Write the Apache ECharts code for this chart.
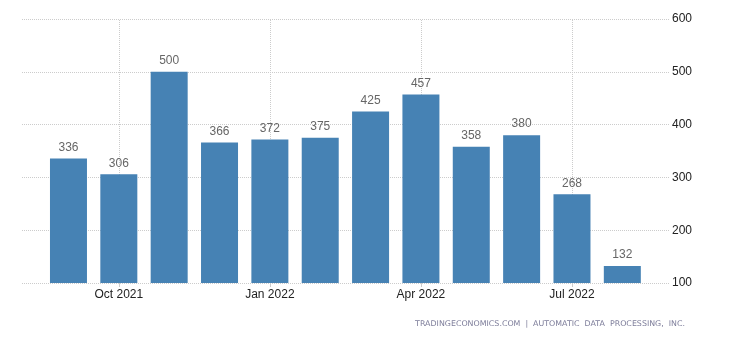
<!DOCTYPE html>
<html>
<head>
<meta charset="utf-8">
<script src="https://cdn.jsdelivr.net/npm/echarts@6/dist/echarts.min.js"></script>
<style>html,body{margin:0;padding:0;background:#fff}#c{width:730px;height:340px}</style>
</head>
<body>
<div id="c"></div>
<script>
var categories = ['Sep 2021','Oct 2021','Nov 2021','Dec 2021','Jan 2022','Feb 2022','Mar 2022','Apr 2022','May 2022','Jun 2022','Jul 2022','Aug 2022'];
var values = [336, 306, 500, 366, 372, 375, 425, 457, 358, 380, 268, 132];
var yTicks = [100, 200, 300, 400, 500, 600];
var shownLabels = ['Oct 2021','Jan 2022','Apr 2022','Jul 2022'];
var footer = 'TRADINGECONOMICS.COM  |  AUTOMATIC  DATA  PROCESSING,  INC.';

var chart = echarts.init(document.getElementById('c'), null, {renderer:'canvas'});
var FONT = 'Liberation Sans, Arial, sans-serif';
function showIdx(i){ return shownLabels.indexOf(categories[i]) >= 0; }
chart.setOption({
  animation: false,
  grid: [
    {left: 43.3, right: 82.5, top: 19, bottom: 57, containLabel: false},
    {left: 22, right: 60, top: 19, bottom: 57, containLabel: false}
  ],
  xAxis: [
    {type: 'category', gridIndex: 0, data: categories, boundaryGap: true,
     axisLine: {show: false},
     axisTick: {show: true, length: 4, alignWithLabel: true, interval: function(i){return showIdx(i);}, lineStyle: {color: '#ccc'}},
     axisLabel: {interval: function(i){return showIdx(i);}, color: '#222', fontSize: 12, fontFamily: FONT, margin: 6},
     splitLine: {show: false}
    },
    {type: 'category', gridIndex: 1, data: categories, show: false}
  ],
  yAxis: [
    {type: 'value', gridIndex: 0, min: 100, max: 600, interval: 100, show: false, splitLine: {show: false}},
    {type: 'value', gridIndex: 1, min: yTicks[0], max: yTicks[yTicks.length-1], interval: 100, position: 'right',
     axisLine: {show: false}, axisTick: {show: false},
     axisLabel: {color: '#222', fontSize: 12, fontFamily: FONT, margin: 2},
     splitLine: {show: true, lineStyle: {color: '#ccc', type: 'dotted'}}
    }
  ],
  series: [
    {
      type: 'line', xAxisIndex: 0, yAxisIndex: 0, data: [], z: 0, silent: true,
      markLine: {
        z: 0, silent: true, symbol: 'none', label: {show: false},
        lineStyle: {color: '#ccc', type: 'dotted', width: 1},
        data: shownLabels.map(function(c){ return {xAxis: c}; })
      }
    },
    {
      type: 'bar', xAxisIndex: 0, yAxisIndex: 0, data: values, barWidth: 37, z: 3,
      itemStyle: {color: '#4682B4'},
      label: {show: true, position: 'top', distance: 5, color: '#666', fontSize: 12, fontFamily: FONT}
    }
  ],
  graphic: [{
    type: 'text', right: 45, top: 320,
    style: {text: footer, font: '7.9px DejaVu Sans', fill: '#7d7d9a'}
  }]
});
</script>
</body>
</html>
